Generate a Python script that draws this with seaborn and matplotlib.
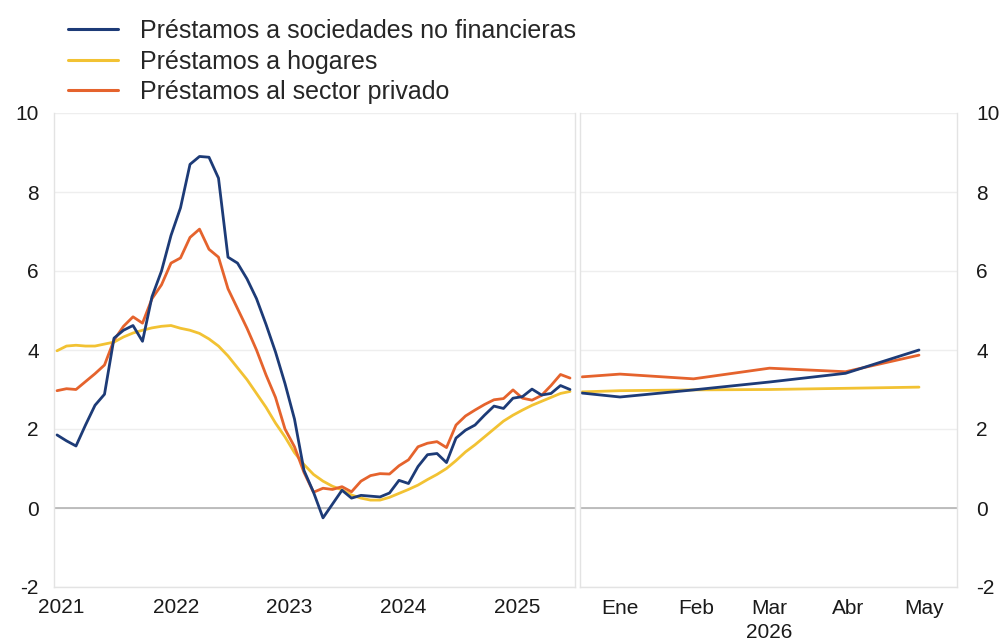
import matplotlib
matplotlib.use("Agg")
import matplotlib.pyplot as plt
from matplotlib.lines import Line2D
import numpy as np
import pandas as pd
import seaborn as sns

# ---------------- data ----------------
series_names = ["Préstamos a sociedades no financieras",
                "Préstamos a hogares",
                "Préstamos al sector privado"]

# monthly, Jan 2021 .. Jul 2025
month_index = list(range(55))
sociedades = [1.85, 1.70, 1.57, 2.10, 2.60, 2.88, 4.30, 4.50, 4.62, 4.22,
              5.35, 6.00, 6.90, 7.60, 8.70, 8.90, 8.88, 8.35, 6.35, 6.20,
              5.80, 5.30, 4.65, 3.95, 3.15, 2.25, 0.95, 0.40, -0.25, 0.10,
              0.45, 0.25, 0.32, 0.30, 0.28, 0.38, 0.70, 0.62, 1.05, 1.35,
              1.38, 1.15, 1.77, 1.97, 2.10, 2.35, 2.58, 2.52, 2.78, 2.82,
              3.01, 2.86, 2.90, 3.10, 3.00]
hogares = [3.98, 4.10, 4.12, 4.10, 4.10, 4.15, 4.20, 4.33, 4.43, 4.50,
           4.56, 4.60, 4.62, 4.55, 4.50, 4.42, 4.28, 4.10, 3.85, 3.55,
           3.25, 2.90, 2.55, 2.15, 1.80, 1.40, 1.10, 0.85, 0.68, 0.55,
           0.46, 0.33, 0.25, 0.20, 0.20, 0.27, 0.37, 0.47, 0.58, 0.72,
           0.85, 1.00, 1.20, 1.42, 1.60, 1.80, 2.00, 2.20, 2.35, 2.48,
           2.60, 2.70, 2.80, 2.90, 2.95]
privado = [2.97, 3.02, 3.00, 3.20, 3.40, 3.62, 4.25, 4.60, 4.84, 4.68,
           5.30, 5.65, 6.20, 6.33, 6.85, 7.06, 6.55, 6.35, 5.55, 5.05,
           4.55, 4.00, 3.37, 2.80, 2.00, 1.55, 0.90, 0.40, 0.50, 0.47,
           0.54, 0.41, 0.68, 0.82, 0.87, 0.86, 1.07, 1.22, 1.55, 1.64,
           1.68, 1.53, 2.10, 2.33, 2.48, 2.62, 2.74, 2.77, 2.99, 2.78,
           2.73, 2.85, 3.10, 3.38, 3.29]

# 2026 projection (day of year)
days_2026 = [0, 15, 44, 74, 104, 133]
sociedades_2026 = [2.91, 2.81, 2.99, 3.19, 3.41, 4.00]
hogares_2026 = [2.94, 2.97, 2.99, 3.00, 3.03, 3.06]
privado_2026 = [3.32, 3.39, 3.27, 3.54, 3.45, 3.87]

year_labels = ["2021", "2022", "2023", "2024", "2025"]
month_labels = ["Ene", "Feb", "Mar", "Abr", "May"]
month_tick_days = [15, 45, 74, 105, 135]
y_ticks = [-2, 0, 2, 4, 6, 8, 10]

colors = {series_names[0]: "#1d3b77",
          series_names[1]: "#f2c233",
          series_names[2]: "#e5632d"}

# ---------------- frames ----------------
t_left = [2021 + m / 12 for m in month_index]
df_left = pd.DataFrame({
    "t": t_left * 3,
    "valor": sociedades + hogares + privado,
    "serie": [series_names[0]] * 55 + [series_names[1]] * 55 + [series_names[2]] * 55,
})
df_right = pd.DataFrame({
    "d": days_2026 * 3,
    "valor": sociedades_2026 + hogares_2026 + privado_2026,
    "serie": [series_names[0]] * 6 + [series_names[1]] * 6 + [series_names[2]] * 6,
})

# ---------------- style ----------------
sns.set_theme(style="white")
plt.rcParams["font.family"] = ["Liberation Sans", "DejaVu Sans"]
plt.rcParams["axes.unicode_minus"] = False

W, H = 1005, 644
fig = plt.figure(figsize=(W / 100, H / 100), dpi=100)
bottom = 1 - 587 / H
height = 474 / H
ax1 = fig.add_axes([54 / W, bottom, 521 / W, height])
ax2 = fig.add_axes([580 / W, bottom, 377 / W, height])

order = [series_names[0], series_names[1], series_names[2]]
draw_order = [series_names[1], series_names[2], series_names[0]]

for ax, df, xcol in [(ax1, df_left, "t"), (ax2, df_right, "d")]:
    for name in draw_order:
        sub = df[df["serie"] == name]
        sns.lineplot(data=sub, x=xcol, y="valor", color=colors[name],
                     linewidth=2.0, ax=ax, legend=False, estimator=None,
                     sort=False)
    ax.set_ylim(-2, 10)
    ax.set_yticks(y_ticks)
    ax.set_yticklabels([str(v) for v in y_ticks])
    ax.grid(axis="y", color="#eeeeee", linewidth=1.0)
    ax.grid(axis="x", visible=False)
    ax.axhline(0, color="#b3b3b3", linewidth=1.2, zorder=1)
    ax.set_xlabel("")
    ax.set_ylabel("")
    for side, sp in ax.spines.items():
        sp.set_color("#e3e3e3")
        sp.set_linewidth(1.0)
    ax.spines["top"].set_visible(False)
    ax.tick_params(length=0, labelsize=15, colors="#1a1a1a")
    ax.set_axisbelow(True)

ax1.set_xlim(2021 - 3 / 114, 2021 + 518 / 114)
ax1.set_xticks([int(y) + 15 / 365 for y in year_labels])
ax1.set_xticklabels(year_labels)
ax1.tick_params(axis="y", pad=11)
ax1.tick_params(axis="x", pad=8)

ax2.set_xlim(-0.8, 148)
ax2.set_xticks(month_tick_days)
ax2.set_xticklabels(month_labels)
ax2.yaxis.tick_right()
ax2.tick_params(axis="y", pad=14)
ax2.tick_params(axis="x", pad=9)
ax2.text(74, (587 - 633) / 474, "2026", transform=ax2.get_xaxis_transform(),
         ha="center", va="center", fontsize=15, color="#1a1a1a")

handles = [Line2D([0], [0], color=colors[n], lw=2.2) for n in order]
fig.legend(handles, order, loc="upper left",
           bbox_to_anchor=(68 / W, 1 - 19 / H), frameon=False,
           fontsize=18, handlelength=2.0, handletextpad=0.88,
           labelspacing=0.26, borderpad=0, borderaxespad=0)

fig.savefig("out.png", dpi=100)
